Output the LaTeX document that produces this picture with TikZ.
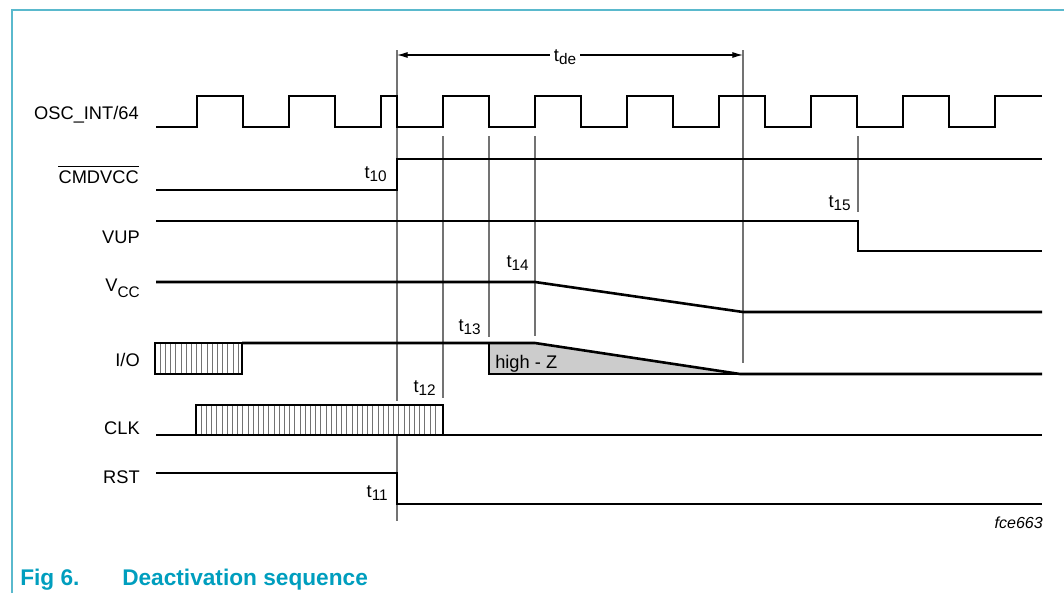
\documentclass[tikz,border=0pt]{standalone}
\usepackage{fontspec}
\setmainfont{Liberation Sans}
\usetikzlibrary{arrows.meta}
\definecolor{capcol}{RGB}{0,158,190}
\definecolor{framecol}{RGB}{90,185,205}
\definecolor{guidecol}{RGB}{115,115,115}
\definecolor{hzcol}{RGB}{204,204,204}
\newcommand\mfs{\fontsize{13.7}{16}\selectfont}
\newcommand\sfs{\fontsize{11.5}{13}\selectfont}
\newcommand\tlab[1]{t\raisebox{-2.5pt}{\sfs #1}}
\begin{document}
\begin{tikzpicture}[x=0.75pt,y=-0.75pt,
  wave/.style={line width=1.95pt, black, line join=miter},
  guideline/.style={line width=0.9pt, guidecol},
  hatchline/.style={line width=0.5pt, black!55},
  sig/.style={font=\mfs, anchor=base east, inner sep=0pt},
  tmark/.style={font=\mfs, anchor=base east, inner sep=0pt}]
\useasboundingbox (0,0) rectangle (1064,593);
% frame
\draw[framecol, line width=1.4pt] (12,593) -- (12,10) -- (1064,10);
% guide lines
\draw[guideline] (397,50) -- (397,521);
\draw[guideline] (443,136) -- (443,398);
\draw[guideline] (489,136) -- (489,337);
\draw[guideline] (535,136) -- (535,336);
\draw[guideline] (743,50) -- (743,363);
\draw[guideline] (858,136) -- (858,212);
% t_de arrow
\coordinate (deA) at (397,55);
\coordinate (deB) at (743,55);
\draw[line width=0.8pt, {Latex[length=8pt,width=4.5pt]}-{Latex[length=8pt,width=4.5pt]}] (deA) -- (deB);
\node[font=\mfs, fill=white, inner sep=3pt, anchor=base] (tde) at (565,61) {\tlab{de}};
% signal labels
\node[sig] (lOSC) at (139,119) {OSC\_INT/64};
\node[sig] (lCMD) at (139,183) {CMDVCC};
\draw[line width=0.7pt] (lCMD.north west) ++(0,-4) coordinate (ovA) -- (lCMD.north east |- ovA) coordinate (ovB);
\node[sig] (lVUP) at (140,243) {VUP};
\node[sig] (lVCC) at (140,291) {V\raisebox{-4.5pt}{\sfs CC}};
\node[sig] (lIO) at (140,366.5) {I/O};
\node[sig] (lCLK) at (140,434) {CLK};
\node[sig] (lRST) at (140,483) {RST};
% time marks
\node[tmark] (t10) at (387,178) {\tlab{10}};
\node[tmark] (t11) at (388,497) {\tlab{11}};
\node[tmark] (t12) at (436,392) {\tlab{12}};
\node[tmark] (t13) at (481,331) {\tlab{13}};
\node[tmark] (t14) at (529,267) {\tlab{14}};
\node[tmark] (t15) at (851,207) {\tlab{15}};
% OSC_INT/64
\draw[wave] (156,127) -- (197,127) -- (197,96) -- (243,96) -- (243,127) -- (289,127) -- (289,96) -- (335,96) -- (335,127) -- (381,127) -- (381,96) -- (397,96) -- (397,127) -- (443,127) -- (443,96) -- (489,96) -- (489,127) -- (535,127) -- (535,96) -- (581,96) -- (581,127) -- (627,127) -- (627,96) -- (673,96) -- (673,127) -- (719,127) -- (719,96) -- (765,96) -- (765,127) -- (811,127) -- (811,96) -- (857,96) -- (857,127) -- (903,127) -- (903,96) -- (949,96) -- (949,127) -- (995,127) -- (995,96) -- (1042,96);
% CMDVCC
\draw[wave] (156,190) -- (397,190) -- (397,159) -- (1042,159);
% VUP
\draw[wave] (156,221) -- (858,221) -- (858,251) -- (1042,251);
% VCC
\draw[wave] (156,282) -- (535,282) -- (743,312) -- (1042,312);
% I/O
\fill[hzcol] (489,343) -- (535,343) -- (740,374) -- (489,374) -- cycle;
\node[font=\mfs, anchor=base west, inner sep=0pt] (hiz) at (495,368) {high - Z};
\fill[white] (155,343) rectangle (242,374);
\foreach \x in {160.2,165.4,...,240} \draw[hatchline] (\x,343) -- (\x,374);
\draw[wave] (155,343) rectangle (242,374);
\draw[wave] (242,343) -- (535,343) -- (740,374) -- (1042,374);
\draw[wave] (489,343) -- (489,374) -- (740,374);
% CLK
\fill[white] (196,401) rectangle (443,435);
\foreach \x in {201.2,206.4,...,440} \draw[hatchline] (\x,405) -- (\x,435);
\draw[wave] (156,435) -- (196,435);
\draw[wave] (196,405) rectangle (443,435);
\draw[wave] (443,435) -- (1042,435);
% RST
\draw[wave] (156,473) -- (397,473) -- (397,504) -- (1042,504);
% code
\node[font=\fontsize{12}{14}\selectfont\itshape, anchor=base east, inner sep=0pt] (code) at (1043,528) {fce663};
% caption
\node[font=\fontsize{17}{20}\selectfont\bfseries, text=capcol, anchor=base west, inner sep=0pt] (fig) at (20,585) {Fig 6.};
\node[font=\fontsize{17}{20}\selectfont\bfseries, text=capcol, anchor=base west, inner sep=0pt] (cap) at (122,585) {Deactivation sequence};
\end{tikzpicture}
\end{document}
